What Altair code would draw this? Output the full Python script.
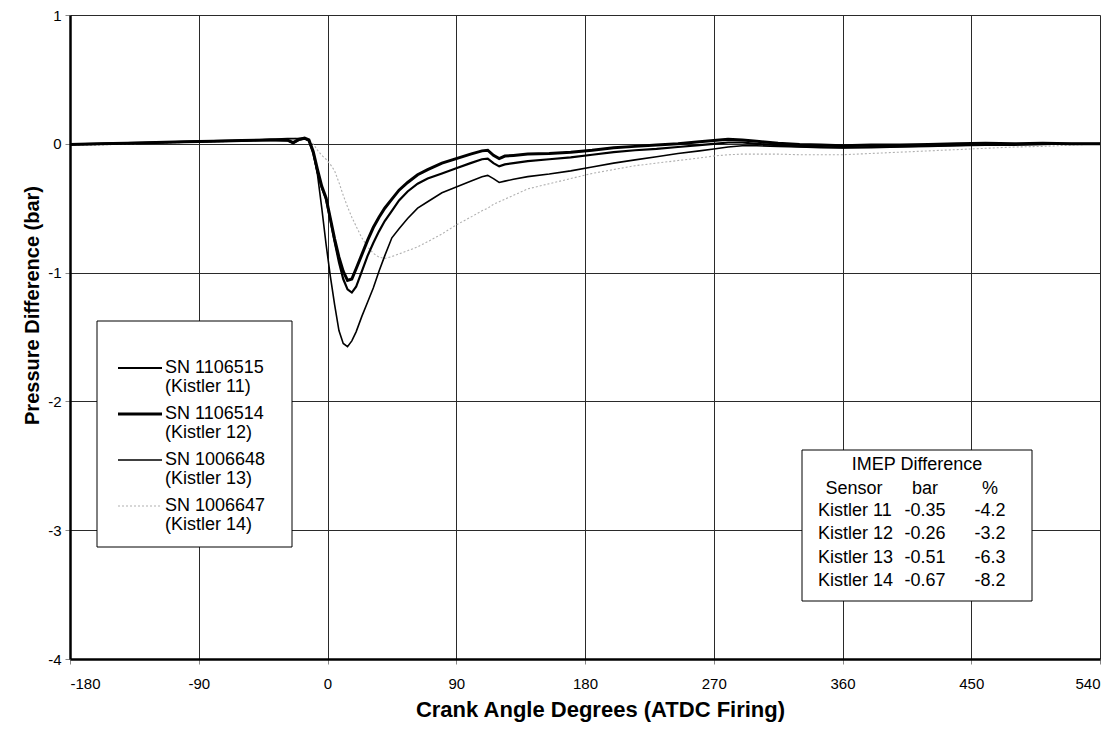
import altair as alt
import pandas as pd

# ---- data ----
angles = [-180, -160, -140, -120, -100, -80, -60, -40, -28, -24, -20, -16, -13, -10, -7, -4, -1,
          2, 5, 8, 11, 14, 17, 20, 24, 28, 32, 36, 40, 45, 50, 56, 63, 70, 80, 90, 100, 108, 112,
          116, 120, 124, 130, 140, 155, 170, 185, 200, 215, 230, 245, 260, 270, 280, 290, 300,
          315, 330, 345, 360, 380, 400, 420, 440, 460, 480, 500, 520, 540]

kistler11 = [-0.005, 0.0, 0.005, 0.01, 0.015, 0.02, 0.025, 0.03, 0.025, 0.005, 0.03, 0.04, 0.025,
             -0.07, -0.22, -0.34, -0.43, -0.59, -0.76, -0.92, -1.05, -1.13, -1.155, -1.11, -0.99,
             -0.87, -0.77, -0.68, -0.60, -0.52, -0.44, -0.37, -0.31, -0.27, -0.23, -0.19, -0.15,
             -0.12, -0.115, -0.15, -0.175, -0.16, -0.15, -0.135, -0.12, -0.105, -0.085, -0.065,
             -0.05, -0.04, -0.025, -0.01, 0.0, 0.01, 0.01, 0.0, -0.01, -0.02, -0.025, -0.03,
             -0.025, -0.02, -0.015, -0.01, -0.005, -0.005, 0.0, 0.0, 0.0]

kistler12 = [-0.005, 0.0, 0.005, 0.01, 0.015, 0.02, 0.025, 0.03, 0.03, 0.01, 0.035, 0.045, 0.03,
             -0.06, -0.2, -0.33, -0.42, -0.58, -0.74, -0.88, -0.99, -1.06, -1.05, -0.97, -0.86,
             -0.75, -0.65, -0.57, -0.50, -0.43, -0.36, -0.30, -0.24, -0.20, -0.15, -0.115, -0.08,
             -0.055, -0.05, -0.09, -0.115, -0.095, -0.09, -0.08, -0.075, -0.065, -0.05, -0.03,
             -0.02, -0.01, 0.0, 0.015, 0.025, 0.035, 0.03, 0.02, 0.005, -0.005, -0.01, -0.015,
             -0.01, -0.01, -0.005, 0.0, 0.005, 0.0, 0.005, 0.0, 0.0]

kistler13 = [0.0, 0.0, 0.005, 0.01, 0.015, 0.02, 0.025, 0.035, 0.04, 0.04, 0.04, 0.045, 0.02,
             -0.06, -0.24, -0.50, -0.78, -1.03, -1.25, -1.45, -1.55, -1.575, -1.53, -1.46, -1.34,
             -1.23, -1.12, -0.99, -0.87, -0.73, -0.66, -0.58, -0.50, -0.45, -0.38, -0.335, -0.29,
             -0.255, -0.245, -0.27, -0.30, -0.29, -0.275, -0.255, -0.235, -0.21, -0.18, -0.15,
             -0.125, -0.10, -0.075, -0.055, -0.04, -0.025, -0.015, -0.015, -0.02, -0.025, -0.03,
             -0.03, -0.03, -0.025, -0.02, -0.015, -0.01, -0.01, -0.005, 0.0, 0.0]

kistler14 = [-0.01, -0.01, 0.0, 0.005, 0.01, 0.015, 0.02, 0.03, 0.035, 0.04, 0.045, 0.04, 0.03,
             0.0, -0.05, -0.09, -0.12, -0.16, -0.21, -0.30, -0.40, -0.49, -0.57, -0.64, -0.73,
             -0.80, -0.85, -0.88, -0.89, -0.875, -0.855, -0.83, -0.80, -0.76, -0.70, -0.63, -0.57,
             -0.52, -0.50, -0.47, -0.45, -0.43, -0.40, -0.35, -0.31, -0.27, -0.23, -0.20, -0.17,
             -0.15, -0.13, -0.11, -0.095, -0.085, -0.08, -0.08, -0.08, -0.085, -0.085, -0.085,
             -0.075, -0.065, -0.055, -0.045, -0.035, -0.025, -0.02, -0.01, 0.0]

series_names = ["Kistler 11", "Kistler 12", "Kistler 13", "Kistler 14"]
legend_sn = ["SN 1106515", "SN 1106514", "SN 1006648", "SN 1006647"]
legend_sub = ["(Kistler 11)", "(Kistler 12)", "(Kistler 13)", "(Kistler 14)"]

table_title = "IMEP Difference"
table_header = ["Sensor", "bar", "%"]
table_sensor = ["Kistler 11", "Kistler 12", "Kistler 13", "Kistler 14"]
table_bar = ["-0.35", "-0.26", "-0.51", "-0.67"]
table_pct = ["-4.2", "-3.2", "-6.3", "-8.2"]

x_ticks = [-180, -90, 0, 90, 180, 270, 360, 450, 540]
y_ticks = [-4, -3, -2, -1, 0, 1]

# ---- build ----
all_vals = [kistler11, kistler12, kistler13, kistler14]
rows = []
for name, vals in zip(series_names, all_vals):
    for a, v in zip(angles, vals):
        rows.append({"angle": a, "dp": v, "series": name})
df = pd.DataFrame(rows)

FONT = "Liberation Sans"
W, H = 1030, 644
GRID = "#2a2a2a"

xenc = alt.X("angle:Q",
             scale=alt.Scale(domain=[-180, 540], nice=False, zero=False),
             axis=alt.Axis(values=x_ticks, title="Crank Angle Degrees (ATDC Firing)",
                           labelExpr="toString(datum.value)", labelFontSize=15,
                           titleFontSize=22, titleFontWeight="bold", labelPadding=12,
                           titlePadding=8, titleX=530, tickSize=5, grid=True,
                           gridColor=GRID, gridWidth=1, gridOpacity=1,
                           domainColor="black", domainWidth=2.5))
yenc = alt.Y("dp:Q",
             scale=alt.Scale(domain=[-4, 1], nice=False, zero=False),
             axis=alt.Axis(values=y_ticks, title="Pressure Difference (bar)",
                           labelExpr="toString(datum.value)", labelFontSize=15,
                           titleFontSize=20, titleFontWeight="bold", labelPadding=4,
                           titlePadding=5, titleY=290, tickSize=5, grid=True,
                           gridColor=GRID, gridWidth=1, gridOpacity=1,
                           domainColor="black", domainWidth=2.5))

styles = {
    "Kistler 11": dict(color="black", strokeWidth=2.2),
    "Kistler 12": dict(color="black", strokeWidth=3.0),
    "Kistler 13": dict(color="black", strokeWidth=1.6),
    "Kistler 14": dict(color="#b0b0b0", strokeWidth=1.1, strokeDash=[2, 2]),
}

order = ["Kistler 14", "Kistler 13", "Kistler 11", "Kistler 12"]
line_layers = []
for name in order:
    line_layers.append(
        alt.Chart(df).transform_filter(alt.datum.series == name)
        .mark_line(**styles[name]).encode(x=xenc, y=yenc)
    )

one = pd.DataFrame({"k": [0]})

def box(x1, x2, y1, y2):
    return alt.Chart(one).mark_rect(fill="white", stroke="black", strokeWidth=1).encode(
        x=alt.value(x1), x2=alt.value(x2), y=alt.value(y1), y2=alt.value(y2))

def txt(s, x, y, align="left", size=18):
    return alt.Chart(one).mark_text(text=s, align=align, baseline="middle", font=FONT,
                                    fontSize=size, color="black").encode(
        x=alt.value(x), y=alt.value(y))

annot = []
# legend
annot.append(box(27, 222, 306, 532))
for i, name in enumerate(series_names):
    ys = 353 + i * 46
    st = dict(styles[name])
    annot.append(alt.Chart(one).mark_rule(**st).encode(
        x=alt.value(48), x2=alt.value(92), y=alt.value(ys)))
    annot.append(txt(legend_sn[i], 95, ys, size=18))
    annot.append(txt(legend_sub[i], 95, ys + 19, size=18))

# table
annot.append(box(732, 962, 435, 586))
annot.append(txt(table_title, 847, 450, align="center"))
col_x = [784, 855, 920]
for j, h in enumerate(table_header):
    annot.append(txt(h, col_x[j], 474, align="center"))
for i in range(4):
    yy = 496 + i * 23.3
    annot.append(txt(table_sensor[i], 748, yy, align="left"))
    annot.append(txt(table_bar[i], col_x[1], yy, align="center"))
    annot.append(txt(table_pct[i], col_x[2], yy, align="center"))

chart = alt.layer(*line_layers, *annot).properties(
    width=W, height=H,
    autosize=alt.AutoSizeParams(type="none"),
    padding={"left": 62, "top": 7, "right": 9, "bottom": 63},
).configure_view(
    stroke="black", strokeWidth=2
).configure_axis(
    domainColor="black", tickColor="black", labelColor="black", titleColor="black",
    labelFont=FONT, titleFont=FONT,
).configure(background="white")

chart.save("out.html", embed_options={"renderer": "svg", "actions": False})
